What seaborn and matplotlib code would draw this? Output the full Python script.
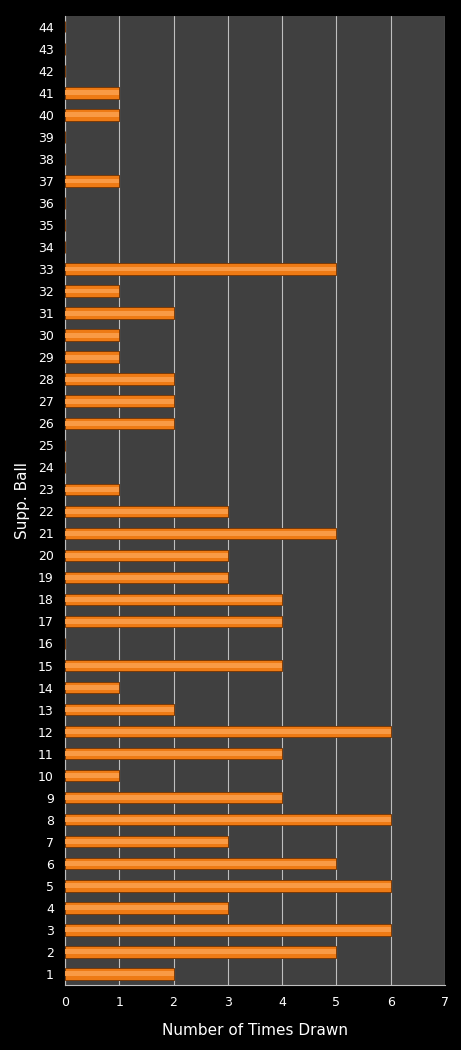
import matplotlib
matplotlib.use("Agg")
import matplotlib.pyplot as plt
import seaborn as sns
import pandas as pd

balls = [str(i) for i in range(1, 45)]
times_drawn = [2, 5, 6, 3, 6, 5, 3, 6, 4, 1,
               4, 6, 2, 1, 4, 0, 4, 4, 3, 3,
               5, 3, 1, 0, 0, 2, 2, 2, 1, 1,
               2, 1, 5, 0, 0, 0, 1, 0, 0, 1,
               1, 0, 0, 0]
x_ticks = [0, 1, 2, 3, 4, 5, 6, 7]

sns.set_style("dark")
plt.rcParams['font.family'] = ['DejaVu Sans']

df = pd.DataFrame({"ball": balls, "times": times_drawn})

fig = plt.figure(figsize=(4.61, 10.5), dpi=100, facecolor="black")
ax = fig.add_axes([0.141, 0.062, 0.824, 0.923])
ax.set_facecolor("#404040")

order = balls[::-1]
sns.barplot(data=df, x="times", y="ball", order=order, orient="h",
            color="#EE7A14", saturation=1, width=0.52,
            edgecolor="#7A3A08", linewidth=0.7, ax=ax, zorder=3)
# highlight band
sns.barplot(data=df, x="times", y="ball", order=order, orient="h",
            color="#F99A45", saturation=1, width=0.22,
            linewidth=0, ax=ax, zorder=4)

ax.set_xlim(0, 7)
ax.set_xticks(x_ticks)
ax.xaxis.grid(True, color="#BFBFBF", linewidth=0.8, zorder=0)
ax.yaxis.grid(False)
ax.set_axisbelow(True)
for s in ["top", "right"]:
    ax.spines[s].set_visible(False)
ax.spines["left"].set_color("#BFBFBF")
ax.spines["bottom"].set_color("#BFBFBF")
ax.tick_params(axis="both", colors="white", labelsize=9, length=0, pad=8)
ax.set_xlabel("Number of Times Drawn", color="white", fontsize=11, labelpad=10)
ax.set_ylabel("Supp. Ball", color="white", fontsize=11, labelpad=6)

fig.savefig("out.png", dpi=100, facecolor="black")
